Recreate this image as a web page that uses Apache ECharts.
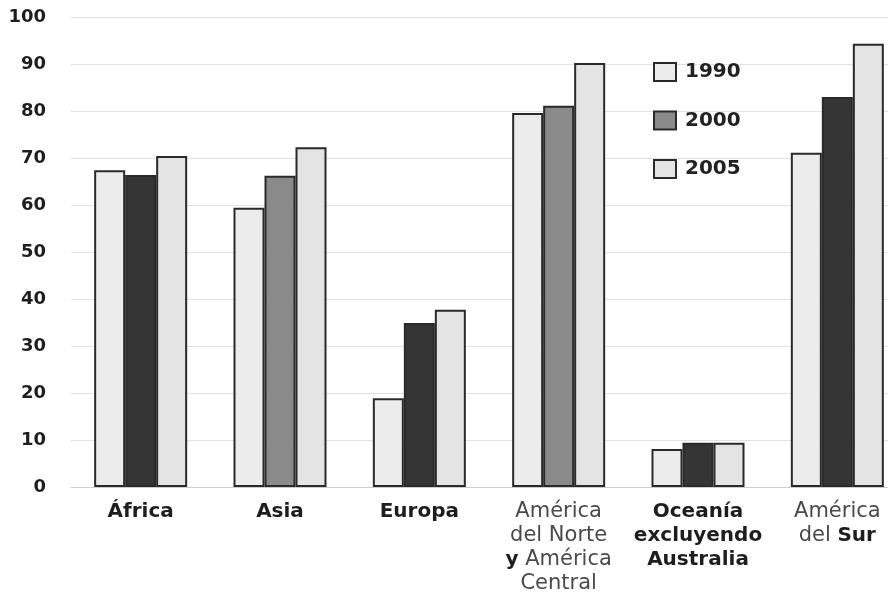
<!DOCTYPE html>
<html>
<head>
<meta charset="utf-8">
<script src="https://cdn.jsdelivr.net/npm/echarts@6/dist/echarts.min.js"></script>
<style>html,body{margin:0;padding:0;background:#fff;}#c{width:888px;height:593px;}</style>
</head>
<body>
<div id="c"></div>
<script>
var categories = ['África', 'Asia', 'Europa', 'América\ndel Norte\ny América\nCentral', 'Oceanía\nexcluyendo\nAustralia', 'América\ndel Sur'];
var seriesNames = ['1990', '2000', '2005'];
var values1990 = [67.4, 59.4, 18.9, 79.6, 8.1, 71.1];
var values2000 = [66.4, 66.2, 34.9, 81.1, 9.4, 83.0];
var values2005 = [70.4, 72.3, 37.7, 90.2, 9.4, 94.3];
var yTicks = [0, 10, 20, 30, 40, 50, 60, 70, 80, 90, 100];

// style-only arrays
var lightCats = [3, 5];
var boldWordsInLight = ['y', 'Sur'];
var dark2000 = [true, false, true, false, true, true];

var chart = echarts.init(document.getElementById('c'));
var BOLD = '"DejaVu Sans", "Liberation Sans", sans-serif';
var LIGHT = '"DejaVu Sans", "Liberation Sans", sans-serif';

function labelFmt(value, idx) {
  var lines = value.split('\n');
  var light = lightCats.indexOf(idx) >= 0;
  return lines.map(function (ln) {
    if (!light) return '{b|' + ln + '}';
    return ln.split(' ').map(function (w) {
      return boldWordsInLight.indexOf(w) >= 0 ? '{b|' + w + '}' : '{l|' + w + '}';
    }).join('{l| }');
  }).join('\n');
}

var border = { borderColor: '#2a2a2a', borderWidth: 2 };

chart.setOption({
  backgroundColor: '#ffffff',
  animation: false,
  grid: { left: 71, right: -19, top: 17, bottom: 106, outerBoundsMode: 'none', containLabel: false },
  legend: {
    orient: 'vertical',
    left: 648,
    top: 57,
    icon: 'rect',
    itemWidth: 22,
    itemHeight: 18,
    itemGap: 28.5,
    data: seriesNames,
    textStyle: { fontFamily: BOLD, fontWeight: 'bold', fontSize: 20, color: '#222', padding: [0, 0, 0, 4] }
  },
  xAxis: {
    type: 'category',
    data: categories,
    axisLine: { show: true, lineStyle: { color: '#cccccc', width: 1 } },
    axisTick: { show: false },
    axisLabel: {
      interval: 0,
      margin: 13,
      formatter: labelFmt,
      rich: {
        b: { fontFamily: BOLD, fontWeight: 'bold', fontSize: 20, color: '#1e1e1e', lineHeight: 24 },
        l: { fontFamily: LIGHT, fontWeight: 'normal', fontSize: 21, color: '#4a4a4a', lineHeight: 24 }
      }
    }
  },
  yAxis: {
    type: 'value',
    min: yTicks[0],
    max: yTicks[yTicks.length - 1],
    interval: 10,
    axisLine: { show: false },
    axisTick: { show: false },
    splitLine: { show: true, lineStyle: { color: '#e2e2e2', width: 1 } },
    axisLabel: {
      margin: 25,
      fontFamily: BOLD,
      fontWeight: 'bold',
      fontSize: 18,
      color: '#1e1e1e'
    }
  },
  series: [
    {
      name: seriesNames[0], type: 'bar', barWidth: 31, barGap: '0%',
      itemStyle: Object.assign({ color: '#ececec' }, border),
      data: values1990
    },
    {
      name: seriesNames[1], type: 'bar', barWidth: 31, barGap: '0%',
      itemStyle: Object.assign({ color: '#8a8a8a' }, border),
      data: values2000.map(function (v, i) {
        return dark2000[i] ? { value: v, itemStyle: { color: '#353535' } } : v;
      })
    },
    {
      name: seriesNames[2], type: 'bar', barWidth: 31, barGap: '0%',
      itemStyle: Object.assign({ color: '#e4e4e4' }, border),
      data: values2005
    }
  ]
});
</script>
</body>
</html>
